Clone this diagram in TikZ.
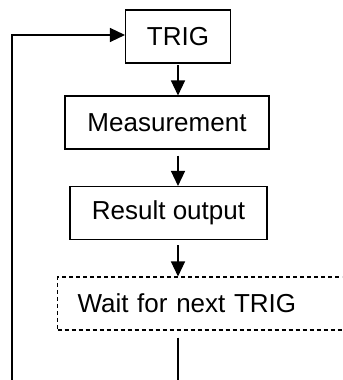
\documentclass[tikz,border=0pt]{standalone}
\usepackage{fontspec}
\setmainfont{Liberation Sans}
\usepackage{tikz}
\usetikzlibrary{arrows.meta, positioning, calc}

\begin{document}
\begin{tikzpicture}[
    font=\fontsize{14.8}{17}\selectfont,
    stepbox/.style={draw, line width=0.6pt, align=center, minimum height=1.06cm,
                    inner sep=0pt},
    waitbox/.style={draw, line width=0.6pt, dash pattern=on 0.08cm off 0.06cm,
                    minimum height=1.06cm, inner sep=0pt},
    arr/.style={-{Triangle[length=0.3cm, width=0.28cm]}, line width=0.7pt},
    ln/.style={line width=0.7pt},
  ]
  \clip (0,0) rectangle (6.84,-7.6);
  \useasboundingbox (0,0) rectangle (6.84,-7.6);

  \node[stepbox, minimum width=2.1cm] (trig) at (3.56,-0.73) {TRIG};
  \node[stepbox, minimum width=4.08cm] (meas) at (3.34,-2.45) {Measurement};
  \node[stepbox, minimum width=3.94cm] (result) at (3.37,-4.26) {Result output};
  \node[waitbox, anchor=west, text width=5.26cm, align=left, inner xsep=0.4cm]
    (wait) at (1.14,-6.07) {Wait for next TRIG};

  \coordinate (loopend) at (0.24,-7.6);
  \coordinate (waitend) at (3.56,-7.6);

  \draw[arr, shorten <=1pt] (trig.south) -- (trig.south |- meas.north);
  \draw[arr, shorten <=0.12cm] (trig.south |- meas.south) -- (trig.south |- result.north);
  \draw[arr, shorten <=0.1cm] (trig.south |- result.south) -- (trig.south |- wait.north);
  \draw[ln, shorten <=0.14cm] (trig.south |- wait.south) -- (waitend);
  \draw[arr] (loopend) |- ($(trig.west)+(0,0.03)$);
\end{tikzpicture}
\end{document}
